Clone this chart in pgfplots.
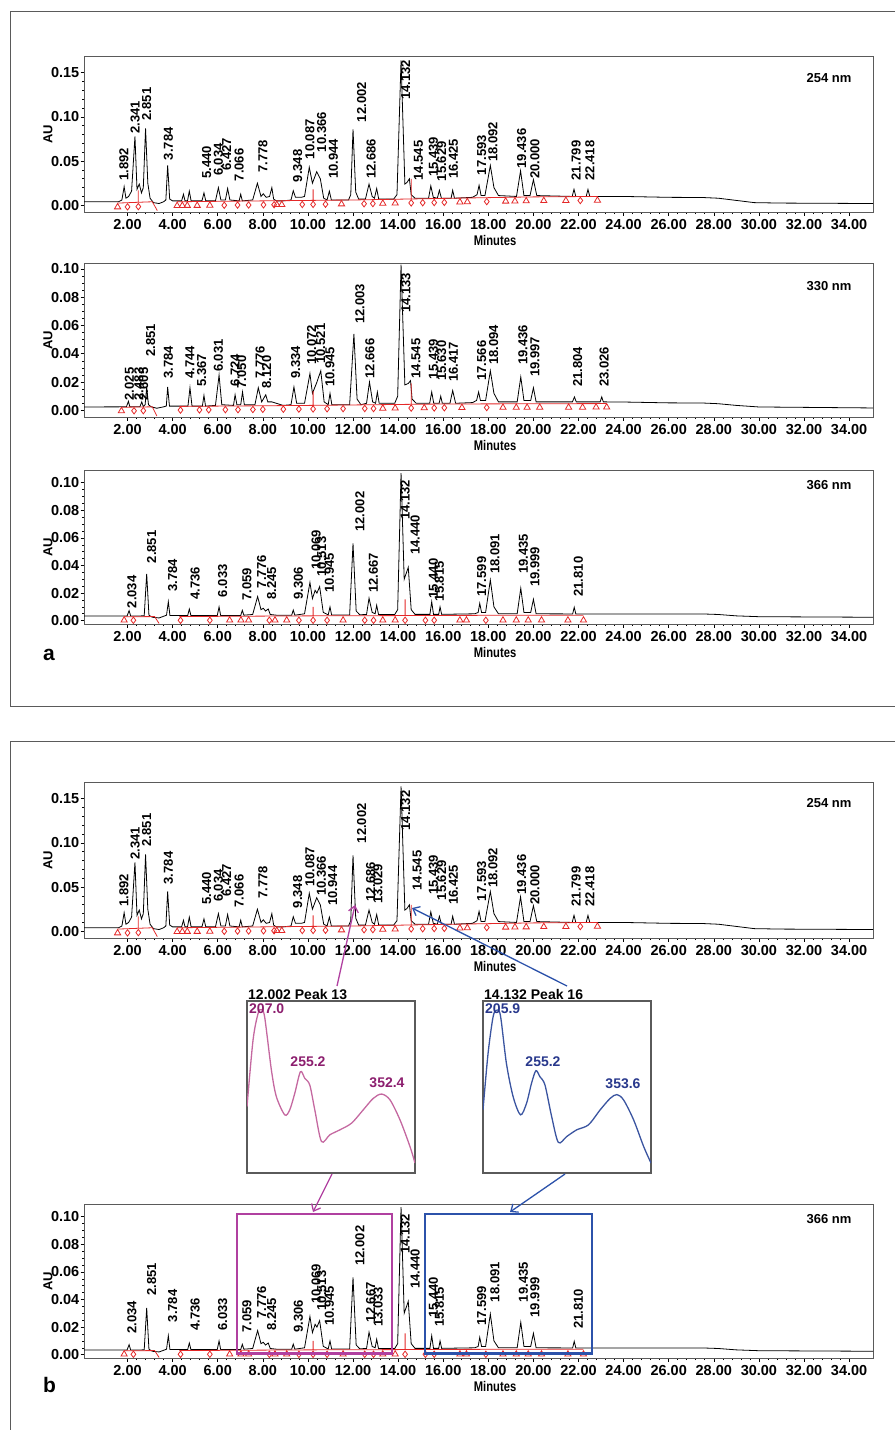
\documentclass[border=0pt]{standalone}
\usepackage{pgfplots}
\pgfplotsset{compat=1.18}
\usepackage{graphicx}
\usepackage{fontspec}
\setmainfont{Liberation Sans}
\usetikzlibrary{arrows.meta}

\definecolor{framegray}{RGB}{90,90,90}
\definecolor{intred}{RGB}{228,40,40}
\definecolor{boxmag}{RGB}{176,64,160}
\definecolor{boxblue}{RGB}{44,82,170}
\definecolor{specmag}{RGB}{196,104,160}
\definecolor{specblue}{RGB}{58,84,160}
\definecolor{labmag}{RGB}{140,30,110}
\definecolor{labblue}{RGB}{40,56,140}

\tikzset{pklab/.style={rotate=90, anchor=west, inner sep=0pt, font=\fontsize{13}{13}\selectfont\bfseries}}
\newcommand\pk[3]{\node[pklab] at (axis cs:#1,#2) {#3};}

\pgfplotsset{
  chrom/.style={
    scale only axis, width=789pt,
    xmin=0.07, xmax=35.06,
    xtick={2,4,...,34}, minor x tick num=4,
    tick align=outside, tick pos=left,
    major tick length=3.5pt, minor tick length=2pt,
    axis line style={draw=framegray, line width=0.9pt},
    every tick/.style={black, line width=0.6pt},
    tick label style={font=\fontsize{14.5}{14.5}\selectfont\bfseries},
    yticklabel style={inner sep=1pt},
    scaled ticks=false,
    /pgf/number format/fixed,
    /pgf/number format/fixed zerofill,
    /pgf/number format/precision=2,
    /pgf/number format/assume math mode=true,
    xlabel={\scalebox{0.8}[1]{Minutes}},
    xlabel style={at={(axis description cs:0.521,0)}, yshift=-28pt, anchor=center,
      font=\fontsize{14}{14}\selectfont\bfseries},
    ylabel={AU},
    ylabel style={at={(axis description cs:-0.0456,0.5)}, anchor=center,
      font=\fontsize{13}{13}\selectfont\bfseries},
    clip mode=individual,
    unbounded coords=jump,
  },
  yA/.style={ymin=-0.0076, ymax=0.1689, ytick={0,0.05,0.10,0.15}, minor y tick num=4},
  yB/.style={ymin=-0.0047, ymax=0.1042, ytick={0,0.02,0.04,0.06,0.08,0.10}, minor y tick num=3},
  yC/.style={ymin=-0.0024, ymax=0.1092, ytick={0,0.02,0.04,0.06,0.08,0.10}, minor y tick num=3},
  trace/.style={black, line width=0.8pt},
  redl/.style={intred, line width=0.8pt},
  tri/.style={only marks, mark=triangle, mark size=3.6pt, mark options={intred, line width=0.8pt}},
  dia/.style={only marks, mark=diamond, mark size=3.2pt, mark options={intred, line width=0.8pt}},
  spec/.style={scale only axis, width=168pt, height=172pt, ymin=0, ymax=1,
    ticks=none, axis line style={draw=framegray, line width=1.3pt}},
}

% 254 nm trace
\newcommand\traceA{%
\addplot[trace] coordinates {(0.07,0.004)(1.6,0.004)(1.75,0.006)(1.85,0.021)(1.93,0.008)(2.05,0.010)(2.18,0.016)(2.33,0.078)(2.42,0.018)(2.52,0.024)(2.62,0.014)(2.70,0.020)(2.80,0.087)(2.90,0.025)(3.0,0.008)(3.15,0.003)(3.4,0.002)(3.6,0.004)(3.70,0.006)(3.78,0.045)(3.87,0.007)(4.0,0.005)(4.40,0.005)(4.48,0.0125)(4.55,0.005)(4.66,0.005)(4.74,0.016)(4.82,0.005)(5.30,0.005)(5.39,0.014)(5.47,0.005)(5.90,0.005)(6.03,0.020)(6.14,0.006)(6.34,0.006)(6.44,0.019)(6.54,0.006)(6.95,0.005)(7.02,0.0125)(7.09,0.005)(7.55,0.006)(7.76,0.025)(7.92,0.010)(8.02,0.013)(8.15,0.009)(8.30,0.010)(8.40,0.020)(8.48,0.007)(8.60,0.005)(8.9,0.005)(9.25,0.006)(9.35,0.0165)(9.45,0.009)(9.7,0.009)(9.85,0.010)(10.06,0.043)(10.2,0.025)(10.39,0.038)(10.55,0.030)(10.70,0.008)(10.85,0.006)(10.95,0.016)(11.04,0.006)(11.8,0.006)(11.90,0.012)(12.00,0.086)(12.12,0.015)(12.25,0.007)(12.55,0.007)(12.71,0.024)(12.85,0.010)(12.95,0.008)(13.05,0.019)(13.14,0.007)(13.8,0.007)(13.95,0.012)(14.13,0.164)(14.30,0.024)(14.40,0.026)(14.50,0.030)(14.58,0.012)(14.75,0.008)(15.35,0.008)(15.45,0.022)(15.56,0.009)(15.74,0.008)(15.83,0.017)(15.92,0.008)(16.35,0.008)(16.42,0.017)(16.50,0.008)(17.3,0.009)(17.50,0.012)(17.59,0.0226)(17.68,0.011)(17.85,0.011)(18.09,0.045)(18.25,0.020)(18.45,0.011)(19.25,0.010)(19.43,0.039)(19.58,0.011)(19.85,0.011)(20.00,0.029)(20.15,0.011)(21.72,0.010)(21.80,0.018)(21.88,0.010)(22.34,0.010)(22.42,0.018)(22.50,0.010)(24.0,0.0100)(26.0,0.009)(27.5,0.0088)(28.2,0.008)(29.0,0.0055)(29.8,0.003)(31.0,0.0025)(35.06,0.002)};
\addplot[redl] coordinates {(1.56,0.0025)(3.10,0.004)(3.32,-0.006)(3.5,nan)(4.2,0.004)(8,0.005)(12,0.006)(16,0.0078)(20,0.0095)(22.84,0.010)(23,nan)(2.48,0.004)(2.48,0.017)(2.5,nan)(10.23,0.0055)(10.23,0.018)(10.3,nan)(14.58,0.007)(14.58,0.030)};
\addplot[tri] coordinates {(1.56,-0.002)(4.2,-0.0005)(4.43,-0.0004)(4.65,-0.0003)(5.09,-0.0003)(5.65,-0.0001)(8.62,0.0007)(8.84,0.0007)(11.49,0.0014)(13.32,0.0021)(13.87,0.0023)(16.74,0.0036)(17.07,0.0038)(18.77,0.0045)(19.18,0.0046)(19.68,0.0048)(20.46,0.0051)(21.44,0.0053)(22.84,0.0055)};
\addplot[dia] coordinates {(2.0,-0.0018)(2.48,-0.0015)(6.29,0.0)(6.88,0.0002)(7.37,0.0003)(8.03,0.0005)(8.5,0.0006)(9.75,0.0009)(10.23,0.001)(10.78,0.0012)(12.49,0.0017)(12.88,0.0019)(14.58,0.0027)(15.09,0.0029)(15.6,0.0031)(16.05,0.0033)(17.93,0.0042)(22.08,0.0054)};
}

% 330 nm trace
\newcommand\traceB{%
\addplot[trace] coordinates {(0.07,0.0024)(1.95,0.0025)(2.04,0.0064)(2.10,0.0026)(2.55,0.0026)(2.63,0.006)(2.70,0.0027)(2.78,0.004)(2.85,0.0165)(2.93,0.004)(3.05,0.0025)(3.3,0.0015)(3.6,0.0025)(3.72,0.003)(3.78,0.0165)(3.86,0.003)(4.68,0.003)(4.77,0.016)(4.86,0.003)(5.32,0.003)(5.39,0.0106)(5.46,0.003)(5.90,0.0035)(6.06,0.025)(6.18,0.004)(6.70,0.0035)(6.77,0.011)(6.85,0.004)(7.02,0.004)(7.10,0.013)(7.18,0.004)(7.65,0.004)(7.80,0.016)(7.95,0.006)(8.13,0.011)(8.22,0.006)(8.40,0.006)(8.60,0.005)(8.9,0.0035)(9.25,0.004)(9.38,0.0165)(9.50,0.005)(9.85,0.005)(10.09,0.026)(10.2,0.012)(10.40,0.020)(10.57,0.028)(10.72,0.006)(10.90,0.004)(10.98,0.012)(11.06,0.004)(11.85,0.004)(12.04,0.054)(12.18,0.008)(12.35,0.004)(12.60,0.005)(12.73,0.020)(12.87,0.006)(13.00,0.005)(13.08,0.013)(13.16,0.005)(13.85,0.005)(13.98,0.010)(14.13,0.103)(14.30,0.018)(14.45,0.019)(14.55,0.021)(14.62,0.008)(14.8,0.005)(15.40,0.005)(15.49,0.013)(15.58,0.005)(15.82,0.005)(15.89,0.010)(15.96,0.005)(16.30,0.005)(16.42,0.014)(16.55,0.005)(17.3,0.0055)(17.48,0.007)(17.57,0.013)(17.65,0.007)(17.88,0.007)(18.09,0.028)(18.25,0.012)(18.45,0.006)(19.28,0.006)(19.44,0.0236)(19.58,0.007)(19.88,0.007)(20.00,0.016)(20.12,0.006)(21.73,0.006)(21.82,0.0095)(21.90,0.006)(22.96,0.006)(23.03,0.0095)(23.10,0.006)(24.0,0.0059)(26.0,0.0053)(27.5,0.0052)(28.2,0.0047)(29.0,0.0035)(30.0,0.0024)(35.06,0.0017)};
\addplot[redl] coordinates {(1.73,0.0022)(3.1,0.0025)(3.3,-0.004)(3.5,nan)(4.3,0.0028)(10,0.0035)(16,0.0045)(23.25,0.0048)(23.5,nan)(10.23,0.0036)(10.23,0.0136)(10.3,nan)(14.58,0.004)(14.58,0.019)};
\addplot[tri] coordinates {(1.73,-0.0004)(13.32,0.0014)(13.87,0.0015)(15.16,0.0017)(16.83,0.0019)(18.65,0.0020)(19.24,0.0020)(19.72,0.0020)(20.28,0.0021)(21.56,0.0021)(22.18,0.0021)(22.78,0.0022)(23.25,0.0022)};
\addplot[dia] coordinates {(2.29,-0.0003)(2.7,-0.0002)(4.35,0.0002)(5.19,0.0003)(5.6,0.0004)(6.34,0.0005)(6.9,0.0005)(7.56,0.0006)(8.0,0.0007)(8.91,0.0008)(9.6,0.0009)(10.23,0.001)(10.85,0.0011)(11.56,0.0012)(12.52,0.0013)(12.91,0.0013)(14.58,0.0016)(15.6,0.0017)(16.05,0.0018)(17.93,0.0020)};
}

% 366 nm trace
\newcommand\traceC{%
\addplot[trace] coordinates {(0.07,0.0034)(1.98,0.0034)(2.07,0.0073)(2.14,0.0034)(2.74,0.0035)(2.85,0.034)(2.95,0.004)(3.1,0.0025)(3.4,0.002)(3.65,0.0035)(3.73,0.004)(3.81,0.0138)(3.88,0.0038)(4.67,0.0038)(4.74,0.0085)(4.81,0.0038)(5.98,0.0038)(6.06,0.010)(6.13,0.0038)(7.02,0.0038)(7.09,0.0075)(7.16,0.004)(7.55,0.0045)(7.77,0.0175)(7.92,0.008)(8.02,0.009)(8.12,0.007)(8.24,0.0085)(8.33,0.0045)(8.6,0.004)(9.28,0.004)(9.35,0.0077)(9.42,0.004)(9.85,0.005)(10.09,0.0277)(10.20,0.016)(10.32,0.022)(10.40,0.020)(10.52,0.0247)(10.68,0.006)(10.90,0.0042)(10.98,0.010)(11.05,0.0042)(11.85,0.0042)(12.00,0.056)(12.14,0.007)(12.30,0.0043)(12.60,0.0045)(12.71,0.0163)(12.85,0.006)(12.98,0.005)(13.05,0.0112)(13.13,0.0045)(13.85,0.0045)(13.98,0.008)(14.13,0.107)(14.27,0.030)(14.45,0.0387)(14.58,0.008)(14.75,0.0046)(15.41,0.0046)(15.49,0.0138)(15.57,0.0046)(15.80,0.0046)(15.86,0.010)(15.93,0.0046)(17.4,0.005)(17.55,0.006)(17.62,0.0126)(17.70,0.006)(17.88,0.006)(18.09,0.0295)(18.25,0.010)(18.45,0.005)(19.28,0.005)(19.44,0.0235)(19.58,0.006)(19.88,0.006)(20.00,0.0155)(20.12,0.005)(21.74,0.0049)(21.81,0.0097)(21.88,0.0049)(24.0,0.0049)(27.5,0.0049)(28.2,0.0045)(29.0,0.0035)(30.0,0.0029)(35.06,0.0025)};
\addplot[redl] coordinates {(1.85,0.0028)(3.2,0.003)(3.4,-0.002)(3.6,nan)(4.3,0.003)(10,0.0035)(20,0.004)(22.22,0.004)(22.5,nan)(10.23,0.0035)(10.23,0.010)(10.3,nan)(14.31,0.0035)(14.31,0.0155)};
\addplot[tri] coordinates {(1.85,0.0003)(6.53,0.0003)(7.03,0.0003)(7.37,0.0003)(8.54,0.0003)(9.06,0.0003)(11.56,0.0003)(13.32,0.0003)(13.87,0.0003)(16.74,0.0003)(17.03,0.0003)(18.65,0.0003)(19.24,0.0003)(19.77,0.0003)(20.36,0.0003)(21.53,0.0003)(22.22,0.0003)};
\addplot[dia] coordinates {(2.26,0.0003)(4.35,0.0003)(5.65,0.0003)(8.29,0.0003)(9.6,0.0003)(10.23,0.0003)(10.85,0.0003)(12.52,0.0003)(12.91,0.0003)(14.31,0.0003)(15.21,0.0003)(15.6,0.0003)(17.89,0.0003)};
}

\begin{document}
\begin{tikzpicture}
\path[use as bounding box] (0pt,0pt) rectangle (895pt,-1430pt);
\draw[framegray, line width=1pt] (895pt,-11pt) -- (10pt,-11pt) -- (10pt,-706pt) -- (895pt,-706pt);
\draw[framegray, line width=1pt] (895pt,-741pt) -- (10pt,-741pt) -- (10pt,-1430pt);

% ---- panel a, 254 nm
\begin{axis}[chrom, yA, at={(84pt,-212pt)}, anchor=south west, height=156pt]
\traceA
\pk{1.84}{0.028}{1.892}\pk{2.34}{0.081}{2.341}\pk{2.85}{0.096}{2.851}\pk{3.81}{0.051}{3.784}
\pk{5.51}{0.030}{5.440}\pk{6.03}{0.033}{6.034}\pk{6.40}{0.039}{6.427}\pk{6.95}{0.027}{7.066}
\pk{8.0}{0.037}{7.778}\pk{9.55}{0.026}{9.348}\pk{10.09}{0.052}{10.087}\pk{10.61}{0.060}{10.366}
\pk{11.13}{0.030}{10.944}\pk{12.38}{0.094}{12.002}\pk{12.8}{0.030}{12.686}\pk{14.34}{0.119}{14.132}
\pk{14.9}{0.028}{14.545}\pk{15.56}{0.032}{15.439}\pk{15.93}{0.027}{15.629}\pk{16.45}{0.030}{16.425}
\pk{17.71}{0.034}{17.593}\pk{18.2}{0.049}{18.092}\pk{19.48}{0.0415}{19.436}\pk{20.07}{0.030}{20.000}
\pk{21.89}{0.028}{21.799}\pk{22.51}{0.028}{22.418}
\end{axis}

% ---- panel a, 330 nm
\begin{axis}[chrom, yB, at={(84pt,-417pt)}, anchor=south west, height=154pt]
\traceB
\pk{2.08}{0.007}{2.025}\pk{2.5}{0.007}{2.483}\pk{2.72}{0.007}{2.605}\pk{3.03}{0.038}{2.851}
\pk{3.81}{0.0225}{3.784}\pk{4.77}{0.0225}{4.744}\pk{5.29}{0.0165}{5.367}\pk{6.03}{0.027}{6.031}
\pk{6.77}{0.0165}{6.724}\pk{7.06}{0.0155}{7.050}\pk{7.88}{0.0225}{7.776}\pk{8.17}{0.0155}{8.120}
\pk{9.46}{0.0225}{9.334}\pk{10.17}{0.032}{10.072}\pk{10.57}{0.033}{10.521}\pk{10.98}{0.0165}{10.945}
\pk{12.31}{0.061}{12.003}\pk{12.75}{0.0225}{12.666}\pk{14.35}{0.069}{14.133}\pk{14.79}{0.0225}{14.545}
\pk{15.56}{0.022}{15.439}\pk{15.93}{0.021}{15.630}\pk{16.45}{0.020}{16.417}\pk{17.71}{0.021}{17.566}
\pk{18.24}{0.032}{18.094}\pk{19.53}{0.032}{19.436}\pk{20.07}{0.0236}{19.997}\pk{21.96}{0.0165}{21.804}
\pk{23.14}{0.0165}{23.026}
\end{axis}

% ---- panel a, 366 nm
\begin{axis}[chrom, yC, at={(84pt,-624pt)}, anchor=south west, height=154pt]
\traceC
\pk{2.19}{0.009}{2.034}\pk{3.07}{0.0416}{2.851}\pk{4.0}{0.021}{3.784}\pk{5.0}{0.015}{4.736}
\pk{6.22}{0.017}{6.033}\pk{7.29}{0.0143}{7.059}\pk{7.95}{0.0235}{7.776}\pk{8.39}{0.015}{8.245}
\pk{9.58}{0.015}{9.306}\pk{10.36}{0.0367}{10.069}\pk{10.61}{0.032}{10.513}\pk{10.95}{0.020}{10.945}
\pk{12.31}{0.0645}{12.002}\pk{12.9}{0.020}{12.667}\pk{14.31}{0.073}{14.132}\pk{14.75}{0.0476}{14.440}
\pk{15.56}{0.016}{15.440}\pk{15.83}{0.014}{15.815}\pk{17.71}{0.0174}{17.599}\pk{18.29}{0.034}{18.091}
\pk{19.56}{0.034}{19.435}\pk{20.07}{0.0246}{19.999}\pk{22.0}{0.0174}{21.810}
\end{axis}

% ---- panel b, 254 nm
\begin{axis}[chrom, yA, at={(84pt,-938pt)}, anchor=south west, height=156pt]
\traceA
\pk{1.84}{0.028}{1.892}\pk{2.34}{0.081}{2.341}\pk{2.85}{0.096}{2.851}\pk{3.81}{0.053}{3.784}
\pk{5.51}{0.030}{5.440}\pk{6.03}{0.033}{6.034}\pk{6.40}{0.039}{6.427}\pk{6.95}{0.027}{7.066}
\pk{8.0}{0.037}{7.778}\pk{9.55}{0.026}{9.348}\pk{10.09}{0.050}{10.087}\pk{10.6}{0.040}{10.366}
\pk{11.1}{0.029}{10.944}\pk{12.38}{0.0995}{12.002}\pk{12.78}{0.033}{12.686}\pk{13.1}{0.031}{13.029}
\pk{14.34}{0.114}{14.132}\pk{14.85}{0.046}{14.545}\pk{15.56}{0.041}{15.439}\pk{15.93}{0.035}{15.629}
\pk{16.45}{0.030}{16.425}\pk{17.71}{0.034}{17.593}\pk{18.2}{0.049}{18.092}\pk{19.48}{0.0415}{19.436}
\pk{20.07}{0.030}{20.000}\pk{21.89}{0.028}{21.799}\pk{22.51}{0.028}{22.418}
\end{axis}

% ---- panel b, 366 nm
\begin{axis}[chrom, yC, at={(84pt,-1358pt)}, anchor=south west, height=154pt]
\traceC
\pk{2.19}{0.015}{2.034}\pk{3.07}{0.0428}{2.851}\pk{4.0}{0.0235}{3.784}\pk{5.0}{0.0174}{4.736}
\pk{6.22}{0.0174}{6.033}\pk{7.29}{0.016}{7.059}\pk{7.95}{0.026}{7.776}\pk{8.39}{0.0174}{8.245}
\pk{9.58}{0.016}{9.306}\pk{10.36}{0.0367}{10.069}\pk{10.61}{0.032}{10.513}\pk{10.95}{0.021}{10.945}
\pk{12.31}{0.0645}{12.002}\pk{12.78}{0.0235}{12.667}\pk{13.12}{0.020}{13.033}\pk{14.31}{0.073}{14.132}
\pk{14.75}{0.0476}{14.440}\pk{15.56}{0.027}{15.440}\pk{15.83}{0.020}{15.815}\pk{17.71}{0.021}{17.599}
\pk{18.29}{0.038}{18.091}\pk{19.56}{0.038}{19.435}\pk{20.07}{0.027}{19.999}\pk{22.0}{0.0186}{21.810}
\draw[boxmag, line width=2.4pt] (axis cs:6.86,0.001) rectangle (axis cs:13.73,0.102);
\draw[boxblue, line width=2.4pt] (axis cs:15.19,0.001) rectangle (axis cs:22.6,0.102);
\end{axis}

% ---- UV spectra insets
\begin{axis}[spec, at={(247pt,-1173pt)}, anchor=south west, xmin=189.6, xmax=393.3]
\addplot[specmag, line width=1.3pt, smooth, tension=0.5] coordinates {(189.6,0.386)(196.9,0.772)(203,0.927)(207,0.950)(211,0.907)(219.2,0.598)(225.2,0.444)(235.4,0.338)(241.4,0.367)(247.5,0.463)(254.4,0.589)(259.7,0.550)(265.7,0.512)(271.8,0.367)(279.9,0.183)(290,0.222)(302.2,0.251)(316.4,0.290)(330.5,0.367)(342.7,0.434)(352.8,0.459)(363,0.425)(375.1,0.309)(387.2,0.154)(393.3,0.058)};
\end{axis}
\begin{axis}[spec, at={(483pt,-1173pt)}, anchor=south west, xmin=189.5, xmax=395.3]
\addplot[specblue, line width=1.3pt, smooth, tension=0.5] coordinates {(189.5,0.367)(195.7,0.695)(201.8,0.907)(205.9,0.946)(210.8,0.917)(218.2,0.637)(226.4,0.444)(235.4,0.338)(242.8,0.405)(248.9,0.521)(254.3,0.595)(259.2,0.560)(265.4,0.512)(273.6,0.328)(281.8,0.178)(292,0.212)(304.3,0.251)(318.7,0.280)(333,0.367)(345.3,0.434)(353.5,0.456)(361.7,0.425)(374,0.309)(386.3,0.154)(395.3,0.058)};
\end{axis}

% ---- texts
\begin{scope}[font=\fontsize{13}{13}\selectfont\bfseries]
\node[anchor=east] at (855pt,-78pt) {254 nm};
\node[anchor=east] at (855pt,-286pt) {330 nm};
\node[anchor=east] at (855pt,-485pt) {366 nm};
\node[anchor=east] at (855pt,-803pt) {254 nm};
\node[anchor=east] at (855pt,-1219pt) {366 nm};
\end{scope}
\node[font=\fontsize{21}{21}\selectfont\bfseries, anchor=base west, inner sep=0pt] at (43pt,-660pt) {a};
\node[font=\fontsize{21}{21}\selectfont\bfseries, anchor=base west, inner sep=0pt] at (43pt,-1392pt) {b};

\begin{scope}[font=\fontsize{14}{14}\selectfont\bfseries, inner sep=0pt]
\node[anchor=base west] at (248pt,-999pt) {12.002 Peak 13};
\node[anchor=base west] at (484pt,-999pt) {14.132 Peak 16};
\node[anchor=west, text=labmag] at (249pt,-1009pt) {207.0};
\node[text=labmag] at (308pt,-1062pt) {255.2};
\node[text=labmag] at (387pt,-1083pt) {352.4};
\node[anchor=west, text=labblue] at (485pt,-1009pt) {205.9};
\node[text=labblue] at (543pt,-1062pt) {255.2};
\node[text=labblue] at (623pt,-1084pt) {353.6};
\end{scope}

% ---- arrows
\begin{scope}[line width=1.3pt, -{Straight Barb[length=6pt,width=10pt]}]
\draw[boxmag] (337pt,-986pt) -- (355pt,-905pt);
\draw[boxblue] (567pt,-986pt) -- (412pt,-908pt);
\draw[boxmag] (332pt,-1174pt) -- (313pt,-1212pt);
\draw[boxblue] (565pt,-1174pt) -- (510pt,-1212pt);
\end{scope}
\end{tikzpicture}
\end{document}
